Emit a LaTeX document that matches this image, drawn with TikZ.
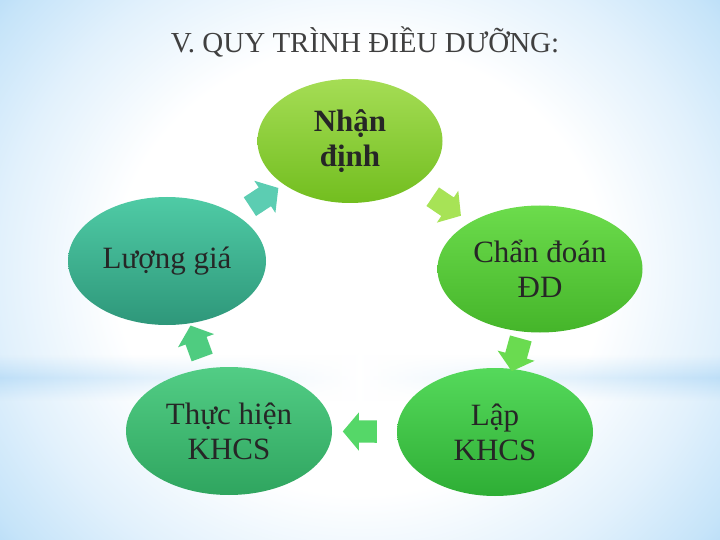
\documentclass[tikz,border=0pt]{standalone}
\usepackage{fontspec}
\setmainfont{Liberation Serif}
\usepackage{tikz}
\usetikzlibrary{shapes,arrows,fadings}

\definecolor{bgblue}{HTML}{A6D3F5}
\definecolor{bgmid}{HTML}{C6E4F9}
\definecolor{bglight}{HTML}{E2F1FC}
\definecolor{ndtop}{HTML}{A5DD55}
\definecolor{ndbot}{HTML}{72BE1F}
\definecolor{cdtop}{HTML}{6CDC4C}
\definecolor{cdbot}{HTML}{45B52A}
\definecolor{lptop}{HTML}{55D95B}
\definecolor{lpbot}{HTML}{2EAE35}
\definecolor{thtop}{HTML}{52CD85}
\definecolor{thbot}{HTML}{2FA55F}
\definecolor{lgtop}{HTML}{4FCBA5}
\definecolor{lgbot}{HTML}{2E977A}

\pgfdeclareradialshading{slidebg}{\pgfpoint{0bp}{0bp}}{color(0bp)=(white); color(17bp)=(white); color(25bp)=(bglight); color(31bp)=(bgmid); color(36bp)=(bgblue); color(50bp)=(bgblue)}

\tikzstyle{stage} = [ellipse, inner sep=0pt, align=center, text=black!85, font=\fontsize{31}{35}\selectfont]
\tikzstyle{cyclearrow} = [single arrow, sloped, allow upside down, inner xsep=0pt, inner ysep=11pt, minimum height=34pt, single arrow head extend=8pt, single arrow tip angle=100]

\tikzfading[name=bandfade, top color=transparent!100, bottom color=transparent!100, middle color=transparent!45]

\begin{document}
\begin{tikzpicture}[x=1pt, y=-1pt]
    
        % background
        \useasboundingbox (0,0) rectangle (720,540);
        \begin{scope}
            \clip (0,0) rectangle (720,540);
            \shade[shading=slidebg] (0,-60) rectangle (720,600);
            \shade[left color=bgblue, right color=bgblue, middle color=white, path fading=bandfade] (0,355) rectangle (720,400);
        \end{scope}
        
        \node (title) at (365,42) [font=\fontsize{29}{34}\selectfont, text=black!75] {V. QUY TRÌNH ĐIỀU DƯỠNG:};
        
        \node (nd) at (350,141) [stage, minimum width=185pt, minimum height=124pt, top color=ndtop, bottom color=ndbot, font=\fontsize{31}{35}\selectfont\bfseries] {Nhận\\định};
        \node (cd) at (540,269) [stage, minimum width=205pt, minimum height=127pt, top color=cdtop, bottom color=cdbot] {Chẩn đoán\\ĐD};
        \node (lp) at (495,432) [stage, minimum width=196pt, minimum height=128pt, top color=lptop, bottom color=lpbot] {Lập\\KHCS};
        \node (th) at (229,431) [stage, minimum width=206pt, minimum height=128pt, top color=thtop, bottom color=thbot] {Thực hiện\\KHCS};
        \node (lg) at (167,261) [stage, minimum width=198pt, minimum height=128pt, top color=lgtop, bottom color=lgbot] {Lượng giá};
        
        \path (nd) -- node[cyclearrow, fill={rgb,255:red,167;green,227;blue,86}] {} (cd);
        \path (cd) -- node[cyclearrow, fill={rgb,255:red,106;green,219;blue,80}] {} (lp);
        \path (lp) -- node[cyclearrow, fill={rgb,255:red,85;green,215;blue,104}] {} (th);
        \path (th) -- node[cyclearrow, fill={rgb,255:red,79;green,204;blue,128}] {} (lg);
        \path (lg) -- node[cyclearrow, fill={rgb,255:red,92;green,205;blue,178}] {} (nd);
        
    \end{tikzpicture}
\end{document}
